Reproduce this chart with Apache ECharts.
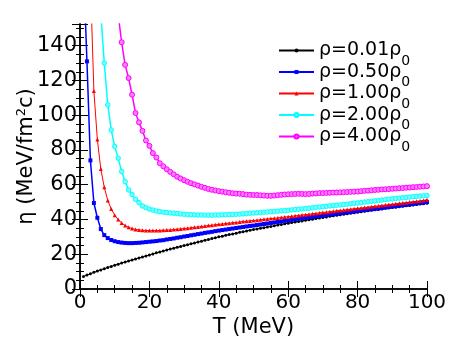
<!DOCTYPE html>
<html>
<head>
<meta charset="utf-8">
<script src="https://cdn.jsdelivr.net/npm/echarts@6/dist/echarts.min.js"></script>
<style>
  html, body { margin: 0; padding: 0; background: #fff; }
  #chart { width: 468px; height: 360px; }
</style>
</head>
<body>
<div id="chart"></div>
<script>
// temperature grid, T = 1..100 MeV
var temps = [];
for (var t = 1; t <= 100; t++) temps.push(t);

var labels = ["0.01", "0.50", "1.00", "2.00", "4.00"];

var eta001 = [7.2, 8.0, 8.8, 9.6, 10.3, 11.0, 11.7, 12.4, 13.0, 13.7,
  14.3, 14.9, 15.5, 16.1, 16.7, 17.3, 17.9, 18.4, 19.0, 19.6,
  20.2, 20.8, 21.3, 21.9, 22.4, 23.0, 23.5, 24.0, 24.5, 25.0,
  25.5, 26.0, 26.5, 27.0, 27.5, 28.0, 28.5, 29.0, 29.5, 30.0,
  30.4, 30.9, 31.3, 31.7, 32.1, 32.6, 33.0, 33.4, 33.8, 34.2,
  34.6, 34.9, 35.3, 35.7, 36.0, 36.4, 36.8, 37.1, 37.5, 37.9,
  38.2, 38.5, 38.9, 39.2, 39.5, 39.9, 40.2, 40.5, 40.9, 41.2,
  41.5, 41.8, 42.1, 42.4, 42.7, 43.0, 43.3, 43.6, 43.9, 44.2,
  44.5, 44.7, 45.0, 45.3, 45.6, 45.8, 46.1, 46.4, 46.6, 46.9,
  47.1, 47.4, 47.6, 47.9, 48.1, 48.4, 48.6, 48.9, 49.1, 49.4];

var eta050 = [185, 131, 74, 49.5, 41, 34.5, 31, 29.3, 28.2, 27.5,
  27.0, 26.7, 26.5, 26.4, 26.4, 26.5, 26.6, 26.8, 27.0, 27.2,
  27.4, 27.6, 27.9, 28.1, 28.5, 28.8, 29.1, 29.5, 29.8, 30.2,
  30.5, 30.9, 31.2, 31.6, 31.9, 32.3, 32.6, 32.9, 33.3, 33.6,
  33.9, 34.2, 34.5, 34.8, 35.1, 35.4, 35.7, 36.0, 36.3, 36.5,
  36.8, 37.1, 37.4, 37.7, 38.0, 38.3, 38.6, 38.9, 39.2, 39.5,
  39.8, 40.1, 40.4, 40.7, 41.0, 41.2, 41.5, 41.8, 42.0, 42.3,
  42.6, 42.8, 43.1, 43.4, 43.6, 43.9, 44.1, 44.4, 44.6, 44.9,
  45.2, 45.4, 45.7, 45.9, 46.2, 46.4, 46.7, 46.9, 47.2, 47.5,
  47.7, 48.0, 48.2, 48.5, 48.7, 49.0, 49.2, 49.5, 49.8, 50.1];

var eta100 = [420, 260, 177, 114, 86, 69, 58.5, 51, 46, 42.5,
  40.0, 38.0, 36.5, 35.5, 34.8, 34.3, 34.0, 33.8, 33.7, 33.6,
  33.6, 33.6, 33.7, 33.8, 33.9, 34.0, 34.2, 34.4, 34.6, 34.8,
  35.0, 35.2, 35.5, 35.7, 36.0, 36.2, 36.5, 36.7, 37.0, 37.2,
  37.4, 37.7, 37.9, 38.1, 38.3, 38.6, 38.8, 39.0, 39.2, 39.4,
  39.6, 39.8, 40.1, 40.3, 40.5, 40.7, 40.9, 41.2, 41.4, 41.6,
  41.8, 42.1, 42.3, 42.6, 42.8, 43.0, 43.3, 43.5, 43.8, 44.0,
  44.2, 44.5, 44.7, 45.0, 45.2, 45.4, 45.7, 45.9, 46.2, 46.4,
  46.6, 46.9, 47.1, 47.4, 47.6, 47.8, 48.1, 48.3, 48.6, 48.8,
  49.0, 49.3, 49.5, 49.7, 50.0, 50.2, 50.5, 50.7, 51.0, 51.3];

var eta200 = [700, 450, 320, 245, 195, 158, 130, 106, 91.5, 82,
  75.3, 67.6, 61.8, 57.0, 54.4, 51.6, 49.7, 47.8, 46.8, 46.0,
  45.4, 44.9, 44.5, 44.2, 44.0, 43.8, 43.6, 43.4, 43.2, 43.0,
  42.9, 42.8, 42.7, 42.6, 42.6, 42.5, 42.5, 42.5, 42.6, 42.6,
  42.7, 42.8, 42.9, 42.9, 43.0, 43.1, 43.3, 43.4, 43.6, 43.7,
  43.9, 44.0, 44.2, 44.3, 44.5, 44.7, 44.8, 45.0, 45.1, 45.3,
  45.5, 45.7, 45.9, 46.1, 46.3, 46.5, 46.7, 47.0, 47.2, 47.4,
  47.6, 47.8, 48.0, 48.2, 48.4, 48.6, 48.8, 49.1, 49.3, 49.5,
  49.7, 50.0, 50.2, 50.5, 50.7, 50.9, 51.2, 51.4, 51.7, 51.9,
  52.1, 52.3, 52.5, 52.7, 52.9, 53.1, 53.3, 53.5, 53.6, 53.8];

var eta400 = [1000, 700, 520, 410, 335, 280, 240, 210, 187, 170,
  158, 142, 129, 121.4, 111.8, 101.3, 95.9, 91, 85.5, 82.4,
  78.2, 75.7, 72.4, 70.6, 68.9, 67.4, 66.0, 64.6, 63.6, 62.6,
  61.7, 60.9, 60.2, 59.5, 58.8, 58.2, 57.6, 57.1, 56.7, 56.3,
  56.0, 55.7, 55.4, 55.1, 54.9, 54.8, 54.6, 54.3, 54.2, 54.1,
  54.1, 53.9, 53.8, 53.6, 53.6, 53.8, 54.0, 54.2, 54.4, 54.5,
  54.6, 54.7, 54.8, 54.7, 54.6, 54.7, 54.9, 55.0, 55.2, 55.2,
  55.3, 55.4, 55.5, 55.5, 55.6, 55.7, 55.8, 55.9, 56.0, 56.1,
  56.3, 56.5, 56.6, 56.8, 57.0, 57.1, 57.3, 57.4, 57.5, 57.7,
  57.8, 58.0, 58.1, 58.3, 58.4, 58.6, 58.7, 58.9, 59.0, 59.2];

var FONT = "DejaVu Sans";

function pairs(vals) {
  return temps.map(function (t, i) { return [t, vals[i]]; });
}

function mkSeries(idx, vals, color, symbol, size, lw, fill) {
  return {
    name: labels[idx],
    type: "line",
    data: pairs(vals),
    symbol: symbol,
    symbolSize: size,
    showSymbol: true,
    clip: true,
    lineStyle: { color: color, width: lw },
    itemStyle: { color: fill || color, borderColor: color, borderWidth: fill ? 1 : 0 },
    emphasis: { disabled: true },
    animation: false
  };
}

var tickStyle = { color: "#000", width: 1 };
var chart = echarts.init(document.getElementById("chart"));
chart.setOption({
  backgroundColor: "#fff",
  animation: false,
  grid: { left: 80, right: 41, top: 24, bottom: 71 },
  legend: {
    orient: "vertical",
    left: 273,
    top: 28,
    itemWidth: 35,
    itemHeight: 5,
    itemGap: -13.5,
    selectedMode: false,
    data: labels,
    formatter: function (name) {
      return "{a|ρ=" + name + "ρ}{s|0}";
    },
    textStyle: {
      rich: {
        a: { fontFamily: FONT, fontSize: 19, lineHeight: 19, color: "#000", verticalAlign: "middle" },
        s: { fontFamily: FONT, fontSize: 14, lineHeight: 14, color: "#000", padding: [21, 0, 0, 0], verticalAlign: "middle" }
      }
    }
  },
  xAxis: [{
    type: "value", min: 0, max: 100, interval: 20,
    name: "T (MeV)", nameLocation: "middle", nameGap: 28, nameMoveOverlap: false,
    nameTextStyle: { fontFamily: FONT, fontSize: 21, color: "#000" },
    axisLine: { lineStyle: { color: "#000", width: 1.5 } },
    axisTick: { inside: true, length: 8, lineStyle: tickStyle },
    minorTick: { show: true, splitNumber: 4, length: 4, lineStyle: tickStyle },
    axisLabel: { fontFamily: FONT, fontSize: 20, color: "#000", margin: 4 },
    splitLine: { show: false }
  }, {
    type: "value", min: 0, max: 100, interval: 20, position: "top",
    axisLine: { lineStyle: { color: "#000", width: 1.5 } },
    axisTick: { inside: true, length: 8, lineStyle: tickStyle },
    minorTick: { show: true, splitNumber: 4, length: 4, lineStyle: tickStyle },
    axisLabel: { show: false },
    splitLine: { show: false }
  }],
  yAxis: [{
    type: "value", min: 0, max: 152.5, interval: 20,
    name: "{a|η (MeV/fm}{p|2}{a|c)}", nameLocation: "middle", nameGap: 42, nameMoveOverlap: false,
    nameTextStyle: {
      rich: {
        a: { fontFamily: FONT, fontSize: 21, color: "#000" },
        p: { fontFamily: FONT, fontSize: 13, color: "#000", padding: [0, 0, 10, 0] }
      }
    },
    axisLine: { lineStyle: { color: "#000", width: 1.5 } },
    axisTick: { inside: true, length: 8, lineStyle: tickStyle },
    minorTick: { show: true, splitNumber: 4, length: 4, lineStyle: tickStyle },
    axisLabel: { fontFamily: FONT, fontSize: 21, color: "#000", margin: 3, showMaxLabel: false },
    splitLine: { show: false }
  }, {
    type: "value", min: 0, max: 152.5, interval: 20, position: "right",
    axisLine: { lineStyle: { color: "#000", width: 1.5 } },
    axisTick: { inside: true, length: 8, lineStyle: tickStyle },
    minorTick: { show: true, splitNumber: 4, length: 4, lineStyle: tickStyle },
    axisLabel: { show: false },
    splitLine: { show: false }
  }],
  series: [
    mkSeries(0, eta001, "#000000", "circle", 3, 1),
    mkSeries(1, eta050, "#0000ff", "rect", 4, 1.5),
    mkSeries(2, eta100, "#ff0000", "triangle", 4, 1),
    mkSeries(3, eta200, "#00ffff", "circle", 4.5, 1.5, "#80ffff"),
    mkSeries(4, eta400, "#ff00ff", "circle", 5, 1.5, "#ff80ff")
  ]
});
</script>
</body>
</html>
